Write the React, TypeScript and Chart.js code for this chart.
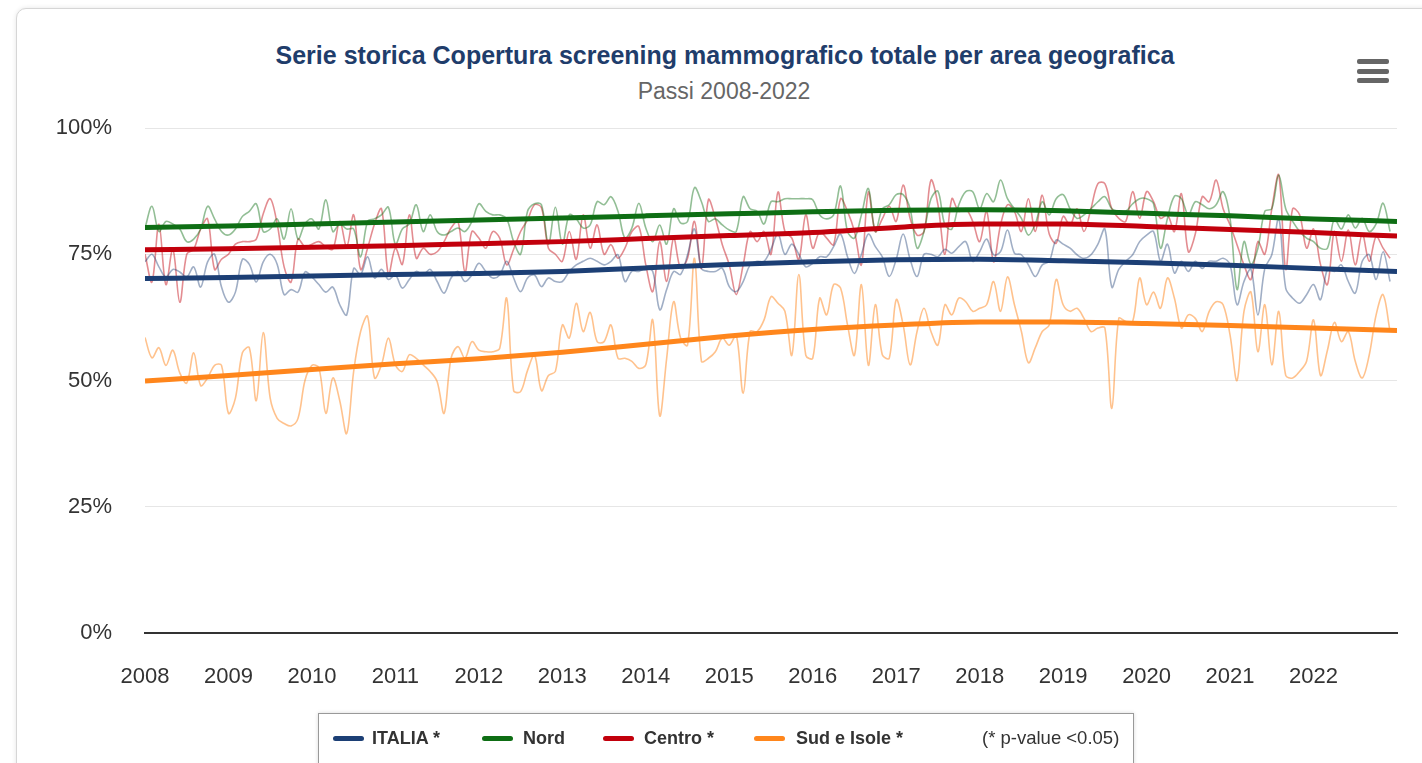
import React, { useEffect, useRef } from 'react';
import { Chart, registerables } from 'chart.js';

Chart.register(...registerables);

// ---------- DATA ----------
const YEARS = ['2008', '2009', '2010', '2011', '2012', '2013', '2014', '2015', '2016', '2017', '2018', '2019', '2020', '2021', '2022'];
const Y_TICK_STEP = 25;
const SERIES_NAMES = ['ITALIA *', 'Nord', 'Centro *', 'Sud e Isole *'];
const NOTE = '(* p-value <0.05)';

// monthly values (Jan 2008 .. Dec 2022), %
const ITALIA = [
  73.5, 75, 72.5, 70.5, 72, 71.5, 70.5, 72.5, 68.5, 73.5, 75, 68.5, 65.5, 67.5, 74, 73, 69.5, 73.5, 75, 73, 67, 68, 67.5, 71.5, 70.5, 69, 67.5, 68.5, 65, 63,
  72.2, 71, 74.5, 70.3, 72, 70, 70.9, 68.3, 70, 71.6, 70.9, 72, 69.6, 67.3, 70.3, 71.6, 69.6, 70.9, 73.2, 71.6, 70.3, 70.9, 73.6, 70.3, 67.6, 70.3, 70.9, 68.6, 70.3,
  69.6, 69.6, 71.6, 72.9, 73.6, 74.2, 73.6, 72.9, 73.6, 74.9, 69.6, 71.6, 71.6, 72.2, 71.6, 64, 68, 71.6, 71, 74.9, 80, 72.2, 71.6, 71.6, 72.2, 68.6, 67.6, 69.6, 72.9, 73.6,
  73.6, 76, 79, 75, 77, 75, 72.5, 73.2, 74.5, 74.5, 76.5, 79, 74.5, 71.2, 75, 79, 76.5, 74.5, 70.6, 74, 79, 74, 70.6, 75, 75, 74.5, 76, 75.2, 76.5,
  77.5, 73.6, 75.5, 78, 74.9, 75.5, 79.8, 75.2, 74.9, 72.9, 70.6, 72.9, 73.6, 77.8, 77, 76.2, 74.9, 74.2, 74.9, 77, 80, 68.5, 72, 73.6, 74.9, 77.5, 78.8, 79.5, 73.6, 77,
  71.3, 73.6, 71.6, 73.6, 72.2, 73.6, 73.6, 74.2, 72.9, 65, 69.6, 72, 63, 72.2, 74.9, 82.1, 68.3, 66.3, 65.3, 67, 69, 66, 72, 71.6, 72.9, 69.6, 67.3, 73.6, 74.9, 70, 75.5, 69.6,
];
const NORD = [
  80.2, 84.5, 79.5, 81.5, 81, 80, 77.5, 78, 80, 84.5, 82, 79.5, 78.8, 80, 82.5, 83.5, 85, 79.5, 80, 82, 78, 84, 78, 81, 82, 80, 85.8, 79.5, 81, 80,
  80, 74.5, 81.5, 82, 82.8, 84.3, 77, 80, 81, 84.8, 79.5, 82.8, 79.5, 78.8, 79.5, 80.2, 79.5, 81.5, 85, 83.5, 82.8, 82.8, 82, 77.5, 75, 83.5, 85, 84.8, 77,
  84.3, 77, 82.8, 82, 80.2, 80.8, 85.4, 84.8, 86.4, 83.5, 78.2, 80.2, 85.1, 80.2, 77.5, 80.8, 77, 84, 81.2, 81.5, 88.2, 85.4, 81.5, 82, 80.8, 79.8, 79.5, 86.4, 84, 83.5,
  81, 85.4, 85.4, 86, 86, 86, 86, 85.8, 82.8, 82, 82.8, 88.5, 79.5, 78.2, 82.8, 88, 79.5, 84, 84.8, 86.8, 86.8, 84, 76.2, 79.5, 86, 87.5, 80.8, 80, 84.8,
  87.4, 87.4, 84, 87, 85.4, 89.7, 86, 84, 82.1, 78.8, 81, 85.4, 82.8, 86, 86.8, 84, 82.1, 82.8, 84, 85.4, 86.4, 84, 83.5, 83.5, 85, 86, 86, 85, 76.2, 82.1,
  86.5, 86, 82.8, 85.4, 84.8, 84, 84.8, 87.4, 82.1, 68, 77.5, 73, 76.2, 83.5, 84, 90.7, 84, 81.5, 79.5, 78.2, 77.5, 76.2, 76.2, 82, 80, 82.8, 80.2, 82.1, 79.5, 81, 85.1, 79.5,
];
const CENTRO = [
  75, 69.5, 81, 69, 76, 65.5, 75, 76, 80, 82, 72, 74, 75, 77, 77.5, 77.5, 78, 83, 86, 81, 72.5, 69.5, 78, 76.5, 77, 77.5, 76.5, 76, 81.5, 76.5,
  82.8, 72, 76.2, 81, 84, 71, 76.2, 73, 82.8, 74.2, 76.2, 75, 75.5, 77.5, 80.2, 81.5, 71.5, 79.5, 78.2, 76.2, 79.5, 78.2, 72.9, 76, 79.5, 81.8, 84.8, 84.2, 76.2,
  75, 73.6, 79.5, 74, 82.8, 76.2, 80.8, 75, 76.9, 74.2, 76.2, 79.5, 80.5, 72.9, 67.6, 77.5, 69.6, 78.2, 72.2, 74.2, 81.5, 72.2, 85.8, 82.1, 76.9, 72.9, 67, 72.9, 79.5, 77.5,
  79.5, 75, 87.3, 79.5, 78.2, 74, 82.8, 76.2, 79.5, 78.2, 76.9, 86, 83.5, 79.5, 72.9, 87.3, 79.5, 82, 84.5, 81.5, 88.7, 82.1, 78.8, 79.5, 89.7, 84.8, 75, 86, 83.5,
  84, 81.5, 77.5, 83.5, 73.5, 80.8, 84.8, 83.5, 79.5, 86, 79.5, 86.7, 79, 77.2, 82.5, 80.8, 84, 79.5, 84, 89, 89, 84, 82.1, 81.5, 87.4, 82.1, 87.4, 85.4, 82.1, 82.8,
  79.5, 87, 75.5, 79, 86.4, 85.4, 89.7, 84, 80.8, 76.9, 72.9, 70, 77.5, 75, 84, 90.7, 72, 84, 82.8, 76.2, 80, 73, 69, 79.5, 73.6, 79.8, 72.9, 79, 73.6, 78.5, 76.2, 74.2,
];
const SUD = [
  58.5, 54.5, 56.5, 53, 56, 51.5, 49.5, 55.5, 49, 50.5, 53, 53, 43.5, 46.5, 55.5, 56.5, 46, 59.5, 46.5, 42.5, 41.5, 41, 42.5, 50, 53, 52.5, 43.5, 50.5, 46, 39.5,
  51.8, 59.7, 62.7, 50.5, 53.1, 58.4, 53.1, 51.8, 55.1, 54.4, 53.1, 51.8, 49.8, 43.5, 54.4, 56.7, 54.4, 57.7, 56, 55.7, 55.7, 56.4, 66.3, 48, 47.8, 52, 55, 48, 51,
  51.8, 61, 58.4, 65.3, 59.7, 63.5, 57.7, 57.7, 61, 54.4, 54.4, 53.8, 52.4, 53.1, 62, 43, 54.4, 65.6, 58.4, 57, 74.2, 53.8, 54.4, 55.7, 58.4, 57, 59, 47.5, 59.7, 59.7,
  62, 66.6, 65.3, 63.7, 55, 71, 55, 54.4, 66.3, 63, 69, 68.3, 61, 55, 69, 53, 65, 55.1, 54.4, 66, 61, 53.1, 59.7, 64.3, 59.7, 57, 65, 63, 66.3,
  65.6, 63.7, 64.3, 65, 69.6, 63.7, 70.5, 65, 59.7, 53.5, 56.5, 59.7, 61, 70, 65, 63.7, 64.3, 62.3, 59.7, 60.4, 60.4, 44.5, 62.3, 61.7, 61.7, 70.3, 65, 67.5, 64.3, 70.3,
  66.3, 60.4, 63, 62.3, 59.7, 63.7, 65.6, 65, 59, 50, 63.7, 67.5, 55.7, 65, 53.1, 63.7, 51, 50.5, 51.8, 53.8, 62, 51, 56, 61.5, 57.7, 59.7, 53.8, 50.5, 55, 63, 67, 59.7,
];

// trend values at the start of each year 2008..2023
const TREND_ITALIA = [70.2, 70.4, 70.7, 71.0, 71.2, 71.6, 72.3, 72.95, 73.5, 73.9, 74.0, 73.7, 73.3, 72.8, 72.2, 71.6];
const TREND_NORD = [80.3, 80.6, 81.0, 81.4, 81.8, 82.2, 82.6, 83.0, 83.4, 83.7, 83.8, 83.6, 83.1, 82.6, 82.0, 81.5];
const TREND_CENTRO = [75.9, 76.1, 76.4, 76.7, 77.1, 77.5, 78.1, 78.7, 79.3, 80.3, 81.0, 81.0, 80.5, 79.9, 79.3, 78.6];
const TREND_SUD = [49.9, 51.0, 52.2, 53.3, 54.3, 55.6, 57.2, 58.8, 60.1, 61.0, 61.6, 61.6, 61.3, 60.9, 60.4, 59.9];

// ---------- STYLE ----------
const COLORS = ['#1c3f75', '#0e6e14', '#c2000c', '#ff861c'];
const LIGHT = ['rgba(28,63,117,0.42)', 'rgba(14,110,20,0.45)', 'rgba(194,0,12,0.45)', 'rgba(255,134,28,0.5)'];
const FONT = '"Liberation Sans", Arial, Helvetica, sans-serif';

export default function App() {
  const canvasRef = useRef<HTMLCanvasElement | null>(null);

  useEffect(() => {
    if (!canvasRef.current) return;
    const monthly = [ITALIA, NORD, CENTRO, SUD];
    const trends = [TREND_ITALIA, TREND_NORD, TREND_CENTRO, TREND_SUD];
    const datasets: any[] = [];
    trends.forEach((t, s) => {
      datasets.push({
        label: SERIES_NAMES[s] + ' trend',
        data: t.map((v, k) => ({ x: k * 12, y: v })),
        borderColor: COLORS[s],
        borderWidth: 5,
        pointRadius: 0,
        tension: 0.4,
        cubicInterpolationMode: 'monotone',
        fill: false,
        order: 0,
      });
    });
    monthly.forEach((arr, s) => {
      datasets.push({
        label: SERIES_NAMES[s],
        data: arr.map((v, i) => ({ x: i, y: v })),
        borderColor: LIGHT[s],
        borderWidth: 1.6,
        pointRadius: 0,
        tension: 0.35,
        fill: false,
        order: 1,
      });
    });

    const chart = new Chart(canvasRef.current, {
      type: 'line',
      data: { datasets },
      options: {
        animation: false,
        responsive: false,
        devicePixelRatio: 1,
        layout: { padding: { left: 0, right: 25, top: 128, bottom: 60 } },
        plugins: { legend: { display: false }, tooltip: { enabled: false }, title: { display: false } },
        scales: {
          x: {
            type: 'linear',
            min: 0,
            max: YEARS.length * 12,
            grid: { display: false, drawTicks: false },
            border: { display: true, color: '#333333', width: 2 },
            afterBuildTicks: (sc: any) => {
              sc.ticks = sc.ticks.filter((t: any) => t.value / 12 < YEARS.length);
            },
            ticks: {
              stepSize: 12,
              autoSkip: false,
              maxRotation: 0,
              padding: 31,
              color: '#333333',
              font: { family: FONT, size: 22 },
              callback: (v: any) => {
                const k = Number(v) / 12;
                return Number.isInteger(k) && k < YEARS.length ? YEARS[k] : '';
              },
            },
            afterFit: (sc: any) => { sc.height = 70; },
          },
          y: {
            min: 0,
            max: 100,
            grid: { color: '#e6e6e6', lineWidth: 1, drawTicks: false },
            border: { display: false },
            ticks: {
              stepSize: Y_TICK_STEP,
              padding: 33,
              color: '#333333',
              font: { family: FONT, size: 22 },
              callback: (v: any) => v + '%',
            },
            afterFit: (sc: any) => { sc.width = 145; },
          },
        },
      },
    });
    return () => chart.destroy();
  }, []);

  const legendItems = [
    { sym: 333, txt: 372 },
    { sym: 482, txt: 523 },
    { sym: 603, txt: 644 },
    { sym: 754, txt: 796 },
  ];

  return (
    <div style={{ position: 'absolute', left: 0, top: 0, width: 1422, height: 763, overflow: 'hidden', background: '#ffffff', fontFamily: FONT }}>
      <div style={{ position: 'absolute', left: 16, top: 8, width: 1440, height: 820, border: '1px solid #d6d6d6', borderRadius: 10, boxShadow: '0 0 5px rgba(0,0,0,0.10)', background: '#fff' }} />
      <div style={{ position: 'absolute', left: 0, width: 1450, top: 40, lineHeight: '30px', textAlign: 'center', fontWeight: 'bold', fontSize: 25, color: '#1f3d6b', whiteSpace: 'nowrap' }}>
        Serie storica Copertura screening mammografico totale per area geografica
      </div>
      <div style={{ position: 'absolute', left: 0, width: 1448, top: 77, lineHeight: '28px', textAlign: 'center', fontSize: 23, color: '#666666', whiteSpace: 'nowrap' }}>
        Passi 2008-2022
      </div>
      {[59, 68.5, 78].map((t) => (
        <div key={t} style={{ position: 'absolute', left: 1357, top: t, width: 32, height: 5, borderRadius: 2, background: '#666666' }} />
      ))}
      <canvas ref={canvasRef} width={1422} height={763} style={{ position: 'absolute', left: 0, top: 0, width: 1422, height: 763 }} />
      <div style={{ position: 'absolute', left: 318, top: 713, width: 814, height: 70, border: '1px solid #999999', boxShadow: '0 0 4px rgba(0,0,0,0.15)', background: '#fff' }}>
        {legendItems.map((it, i) => (
          <React.Fragment key={i}>
            <div style={{ position: 'absolute', left: it.sym - 319, top: 22, width: 31, height: 5, borderRadius: 3, background: COLORS[i] }} />
            <div style={{ position: 'absolute', left: it.txt - 319, top: 12, lineHeight: '24px', fontSize: 18, fontWeight: 'bold', color: '#333333', whiteSpace: 'nowrap' }}>
              {SERIES_NAMES[i]}
            </div>
          </React.Fragment>
        ))}
        <div style={{ position: 'absolute', left: 982 - 319, top: 12, lineHeight: '24px', fontSize: 18.5, color: '#333333', whiteSpace: 'nowrap' }}>
          {NOTE}
        </div>
      </div>
    </div>
  );
}
